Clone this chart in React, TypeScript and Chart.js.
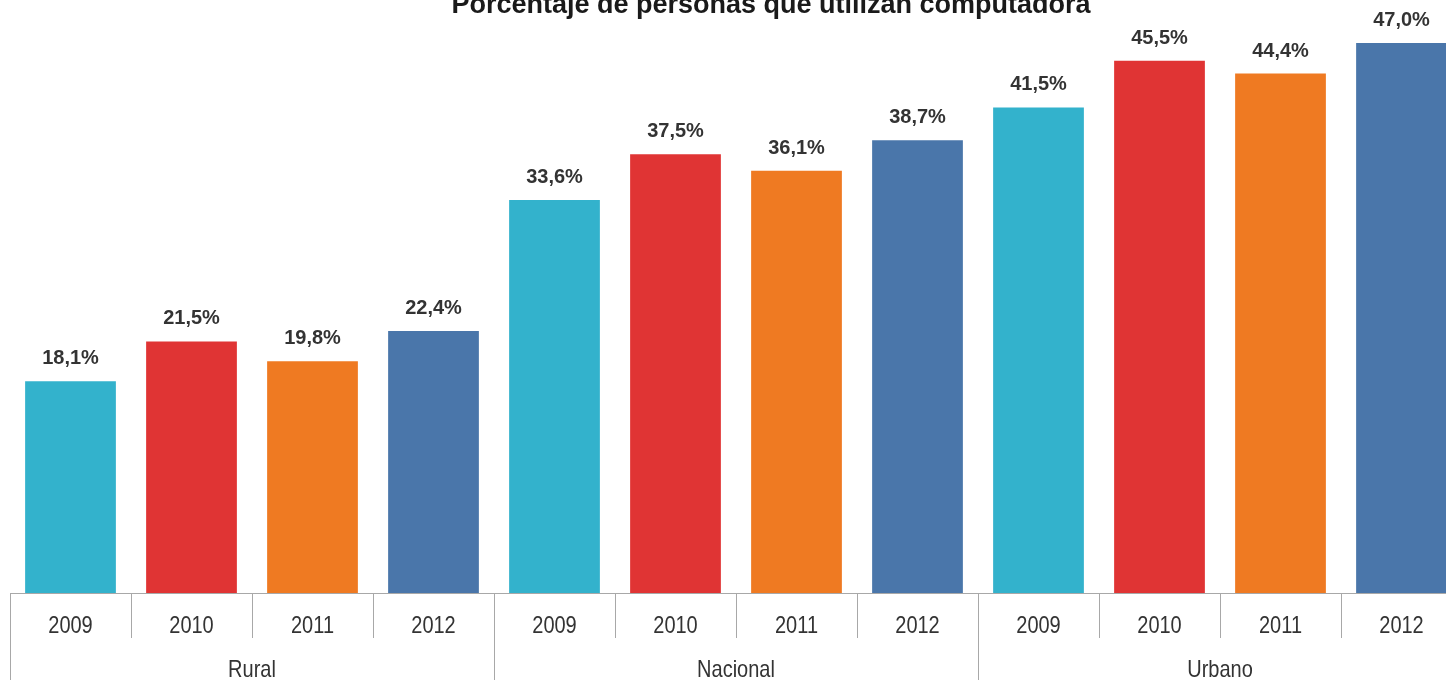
import React, { useEffect, useRef } from "react";
import { Chart, registerables } from "chart.js";

Chart.register(...registerables);

const TITLE = "Porcentaje de personas que utilizan computadora";
const groups = ["Rural", "Nacional", "Urbano"];
const years = ["2009", "2010", "2011", "2012"];
const rural = [18.1, 21.5, 19.8, 22.4];
const nacional = [33.6, 37.5, 36.1, 38.7];
const urbano = [41.5, 45.5, 44.4, 47.0];
const yearColors = ["#33b2cc", "#e03434", "#ef7a22", "#4a76aa"];

const labels: string[] = [];
const values: number[] = [];
const colors: string[] = [];
[rural, nacional, urbano].forEach((arr, g) => {
  arr.forEach((v, i) => {
    labels.push(groups[g] + " " + years[i]);
    values.push(v);
    colors.push(yearColors[i]);
  });
});

const fmt = (v: number) => v.toFixed(1).replace(".", ",") + "%";

const overlayPlugin = {
  id: "overlay",
  afterDatasetsDraw(chart: any) {
    const ctx = chart.ctx;
    const meta = chart.getDatasetMeta(0);
    ctx.save();
    ctx.fillStyle = "#333333";
    ctx.font = "bold 20px 'Liberation Sans', Arial, sans-serif";
    ctx.textAlign = "center";
    ctx.textBaseline = "alphabetic";
    meta.data.forEach((el: any, i: number) => {
      ctx.fillText(fmt(values[i]), el.x, el.y - 17);
    });
    ctx.restore();
  },
  afterDraw(chart: any) {
    const ctx = chart.ctx;
    const area = chart.chartArea;
    const xs = chart.scales.x;
    const bottom = area.bottom;
    const n = labels.length;
    const step = (area.right - area.left) / n;
    ctx.save();
    // axis line
    ctx.strokeStyle = "#a8a8a8";
    ctx.lineWidth = 1;
    ctx.beginPath();
    ctx.moveTo(area.left, bottom + 0.5);
    ctx.lineTo(area.right, bottom + 0.5);
    ctx.stroke();
    // separators
    for (let i = 0; i <= n; i++) {
      const x = Math.round(xs.getPixelForValue(i) - step / 2) + 0.5;
      const isGroup = i % years.length === 0;
      ctx.beginPath();
      ctx.moveTo(x, bottom);
      ctx.lineTo(x, isGroup ? chart.height : bottom + 45);
      ctx.stroke();
    }
    // year labels
    ctx.fillStyle = "#333333";
    ctx.font = "20px 'Liberation Sans', Arial, sans-serif";
    ctx.textAlign = "center";
    ctx.textBaseline = "alphabetic";
    for (let i = 0; i < n; i++) {
      const x = xs.getPixelForValue(i);
      ctx.save();
      ctx.translate(x, bottom + 40);
      ctx.scale(1, 1.17);
      ctx.fillText(years[i % years.length], 0, 0);
      ctx.restore();
    }
    // group labels
    groups.forEach((g, gi) => {
      const a = xs.getPixelForValue(gi * years.length) - step / 2;
      const b = xs.getPixelForValue(gi * years.length + years.length - 1) + step / 2;
      ctx.save();
      ctx.translate((a + b) / 2, bottom + 84);
      ctx.scale(1, 1.17);
      ctx.fillText(g, 0, 0);
      ctx.restore();
    });
    // title
    ctx.fillStyle = "#1a1a1a";
    ctx.font = "bold 27px 'Liberation Sans', Arial, sans-serif";
    ctx.fillText(TITLE, 771, 13);
    ctx.restore();
  },
};

export default function App() {
  const ref = useRef<HTMLCanvasElement | null>(null);
  useEffect(() => {
    if (!ref.current) return;
    const chart = new Chart(ref.current, {
      type: "bar",
      data: {
        labels,
        datasets: [
          {
            data: values,
            backgroundColor: colors,
            borderWidth: 0,
            categoryPercentage: 1,
            barPercentage: 0.75,
          },
        ],
      },
      options: {
        responsive: false,
        animation: false,
        devicePixelRatio: 1,
        layout: { padding: { left: 10, right: 0, top: 8, bottom: 87 } },
        plugins: {
          legend: { display: false },
          tooltip: { enabled: false },
          title: { display: false },
        },
        scales: {
          x: { display: false },
          y: { display: false, min: 0, max: 50 },
        },
      },
      plugins: [overlayPlugin],
    });
    return () => chart.destroy();
  }, []);
  return (
    <div
      style={{
        position: "fixed",
        left: 0,
        top: 0,
        width: 1446,
        height: 680,
        overflow: "hidden",
        background: "#ffffff",
      }}
    >
      <canvas ref={ref} width={1462} height={680} style={{ display: "block", width: 1462, height: 680 }} />
    </div>
  );
}
